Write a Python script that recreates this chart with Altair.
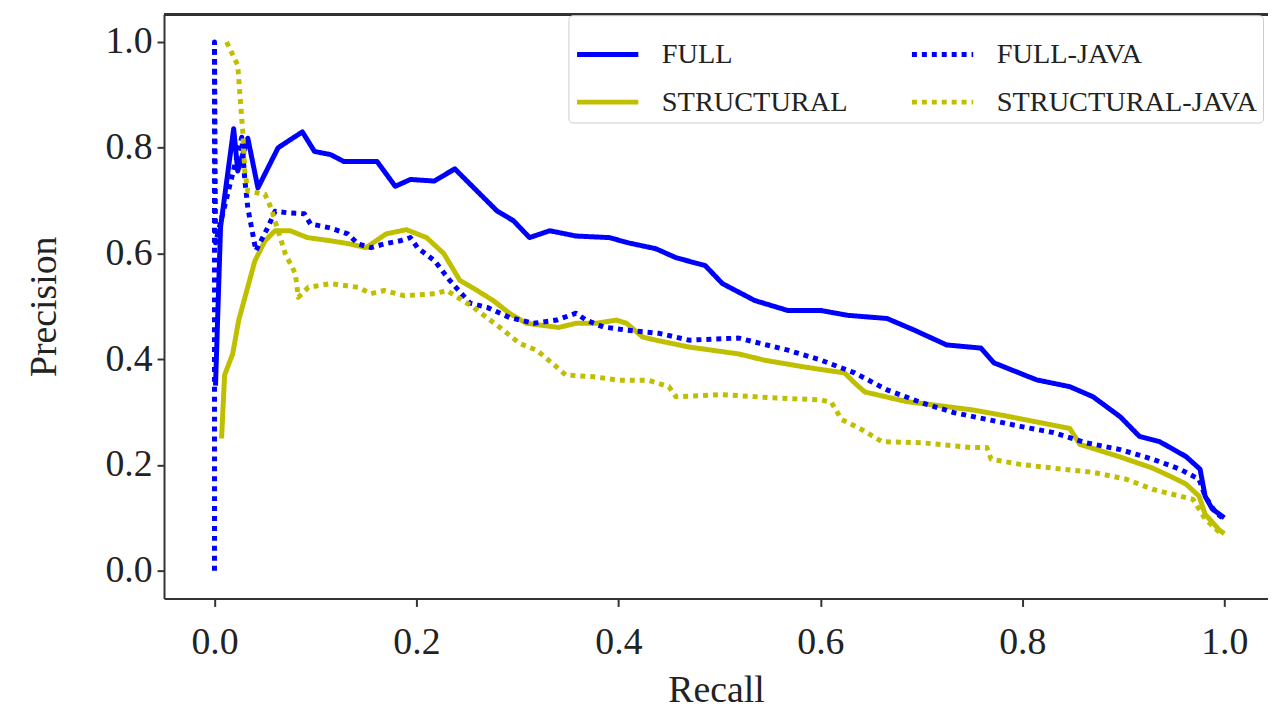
import altair as alt
import pandas as pd

# ---- data (recall, precision) ----
full_r = [0.001, 0.006, 0.019, 0.023, 0.033, 0.043, 0.063, 0.087, 0.099, 0.115, 0.128, 0.148, 0.161,
          0.179, 0.194, 0.2175, 0.238, 0.26, 0.28, 0.296, 0.312, 0.332, 0.358, 0.391, 0.41, 0.437,
          0.457, 0.486, 0.503, 0.535, 0.568, 0.601, 0.627, 0.666, 0.693, 0.725, 0.759, 0.772, 0.814,
          0.847, 0.870, 0.897, 0.916, 0.936, 0.962, 0.976, 0.981, 0.988, 1.0]
full_p = [0.35, 0.65, 0.836, 0.756, 0.818, 0.724, 0.80, 0.83, 0.793, 0.787, 0.774, 0.774, 0.774,
          0.727, 0.74, 0.737, 0.76, 0.718, 0.68, 0.662, 0.63, 0.643, 0.633, 0.63, 0.62, 0.609,
          0.592, 0.577, 0.543, 0.511, 0.492, 0.492, 0.483, 0.477, 0.455, 0.427, 0.421, 0.393, 0.361,
          0.348, 0.329, 0.291, 0.254, 0.244, 0.216, 0.192, 0.141, 0.117, 0.1]

structural_r = [0.007, 0.010, 0.018, 0.024, 0.04, 0.05, 0.06, 0.075, 0.092, 0.115, 0.134, 0.15, 0.17,
                0.19, 0.21, 0.227, 0.243, 0.26, 0.276, 0.292, 0.309, 0.341, 0.358, 0.378, 0.398, 0.408,
                0.424, 0.437, 0.470, 0.519, 0.545, 0.585, 0.624, 0.634, 0.644, 0.685, 0.751, 0.783,
                0.847, 0.857, 0.897, 0.929, 0.946, 0.962, 0.975, 0.981, 0.995, 1.0]
structural_p = [0.25, 0.37, 0.41, 0.474, 0.586, 0.624, 0.643, 0.643, 0.63, 0.624, 0.618, 0.611, 0.637,
                0.645, 0.63, 0.6, 0.549, 0.53, 0.511, 0.487, 0.468, 0.46, 0.468, 0.468, 0.474, 0.468,
                0.442, 0.436, 0.423, 0.41, 0.398, 0.385, 0.374, 0.355, 0.338, 0.32, 0.304, 0.293,
                0.269, 0.239, 0.215, 0.194, 0.179, 0.164, 0.141, 0.107, 0.077, 0.07]

full_java_r = [0.0, 0.0, 0.001, 0.027, 0.030, 0.033, 0.036, 0.041, 0.053, 0.060, 0.072, 0.089, 0.095,
               0.115, 0.132, 0.142, 0.155, 0.168, 0.184, 0.194, 0.201, 0.218, 0.233, 0.253, 0.270,
               0.292, 0.316, 0.339, 0.358, 0.368, 0.385, 0.408, 0.440, 0.470, 0.519, 0.568, 0.601,
               0.634, 0.666, 0.700, 0.732, 0.765, 0.798, 0.831, 0.863, 0.897, 0.929, 0.956, 0.975,
               0.981, 0.991, 0.998]
full_java_p = [0.0, 1.0, 0.62, 0.82, 0.74, 0.686, 0.656, 0.605, 0.65, 0.68, 0.677, 0.675, 0.656,
               0.648, 0.637, 0.618, 0.611, 0.618, 0.624, 0.63, 0.611, 0.586, 0.549, 0.506, 0.498,
               0.479, 0.468, 0.474, 0.487, 0.474, 0.461, 0.455, 0.449, 0.436, 0.44, 0.417, 0.398,
               0.374, 0.342, 0.318, 0.299, 0.286, 0.273, 0.261, 0.242, 0.229, 0.211, 0.192, 0.173,
               0.141, 0.111, 0.1]

structural_java_r = [0.012, 0.023, 0.026, 0.028, 0.030, 0.033, 0.050, 0.056, 0.070, 0.080, 0.083,
                     0.093, 0.115, 0.142, 0.155, 0.168, 0.188, 0.220, 0.230, 0.255, 0.286, 0.302,
                     0.319, 0.339, 0.348, 0.375, 0.401, 0.430, 0.450, 0.457, 0.503, 0.552, 0.601,
                     0.611, 0.621, 0.641, 0.661, 0.700, 0.749, 0.765, 0.769, 0.798, 0.840, 0.870,
                     0.903, 0.929, 0.956, 0.969, 0.981, 0.995]
structural_java_p = [1.0, 0.956, 0.88, 0.83, 0.756, 0.718, 0.712, 0.686, 0.6, 0.562, 0.517,
                     0.536, 0.543, 0.536, 0.524, 0.53, 0.52, 0.524, 0.53, 0.50, 0.455, 0.43,
                     0.417, 0.385, 0.37, 0.367, 0.36, 0.36, 0.348, 0.329, 0.333, 0.327, 0.323,
                     0.318, 0.286, 0.267, 0.244, 0.242, 0.233, 0.233, 0.211, 0.201, 0.192, 0.186,
                     0.173, 0.154, 0.141, 0.135, 0.098, 0.073]

# legend order (filled column by column): Full, Structural | Full-Java, Structural-Java
series_names = ["Full", "Structural", "Full-Java", "Structural-Java"]
series_colors = ["#0000ff", "#bfbf00", "#0000ff", "#bfbf00"]
series_dashes = [[1, 0], [1, 0], [5, 5], [5, 5]]
x_ticks = [0.0, 0.2, 0.4, 0.6, 0.8, 1.0]
y_ticks = [0.0, 0.2, 0.4, 0.6, 0.8, 1.0]

frames = []
for name, rr, pp in [("Full", full_r, full_p), ("Structural", structural_r, structural_p),
                     ("Full-Java", full_java_r, full_java_p),
                     ("Structural-Java", structural_java_r, structural_java_p)]:
    frames.append(pd.DataFrame({"series": name, "recall": rr, "precision": pp,
                                "idx": list(range(len(rr)))}))
df = pd.concat(frames, ignore_index=True)

W, H = 1111, 588
FONT = "Liberation Serif"
TXT = "#222222"

legend_kw = dict(title=None, orient="none", legendX=407, legendY=1,
                 columns=2, symbolType="stroke", symbolSize=3800,
                 symbolStrokeWidth=5, labelFont=FONT, labelFontSize=28.5,
                 labelColor=TXT, labelOffset=21, columnPadding=54, labelLimit=500,
                 rowPadding=0, padding=6, strokeColor="#cccccc",
                 fillColor="white", cornerRadius=4,
                 labelExpr="upper(datum.label)")

lines = alt.Chart(df).mark_line(strokeWidth=5, strokeCap="butt", strokeJoin="round").encode(
    x=alt.X("recall:Q", scale=alt.Scale(domain=[-0.05, 1.0433], nice=False, zero=False),
            axis=alt.Axis(values=x_ticks, format=".1f", title="Recall", grid=False,
                          domainColor="#333333", domainWidth=2, tickColor="#333333", tickWidth=2,
                          tickSize=8, labelFont=FONT, labelFontSize=38, labelColor=TXT,
                          labelPadding=17, titleFont=FONT, titleFontSize=38, titleColor=TXT,
                          titleFontWeight="normal", titleBaseline="alphabetic", titleY=104)),
    y=alt.Y("precision:Q", scale=alt.Scale(domain=[-0.0526, 1.0526], nice=False, zero=False),
            axis=alt.Axis(values=y_ticks, format=".1f", title="Precision", grid=False,
                          domainColor="#333333", domainWidth=2, tickColor="#333333", tickWidth=2,
                          tickSize=7, labelFont=FONT, labelFontSize=38, labelColor=TXT,
                          labelPadding=5, titleFont=FONT, titleFontSize=38, titleColor=TXT,
                          titleFontWeight="normal", titleBaseline="middle", titleX=-120)),
    color=alt.Color("series:N", scale=alt.Scale(domain=series_names, range=series_colors),
                    legend=alt.Legend(**legend_kw)),
    strokeDash=alt.StrokeDash("series:N", scale=alt.Scale(domain=series_names, range=series_dashes),
                              legend=alt.Legend(**legend_kw)),
    order="idx:Q",
)

top_border = alt.Chart(df).mark_rule(color="#333333", strokeWidth=2).encode(
    x=alt.value(0), x2=alt.value(W), y=alt.value(0))

chart = alt.layer(lines, top_border).properties(
    width=W, height=H,
    autosize=alt.AutoSizeParams(type="none"),
    padding={"left": 157, "top": 4, "right": 0, "bottom": 109},
).configure_view(stroke=None).configure(background="white")

chart.save("out.html", embed_options={"renderer": "svg", "actions": False})
